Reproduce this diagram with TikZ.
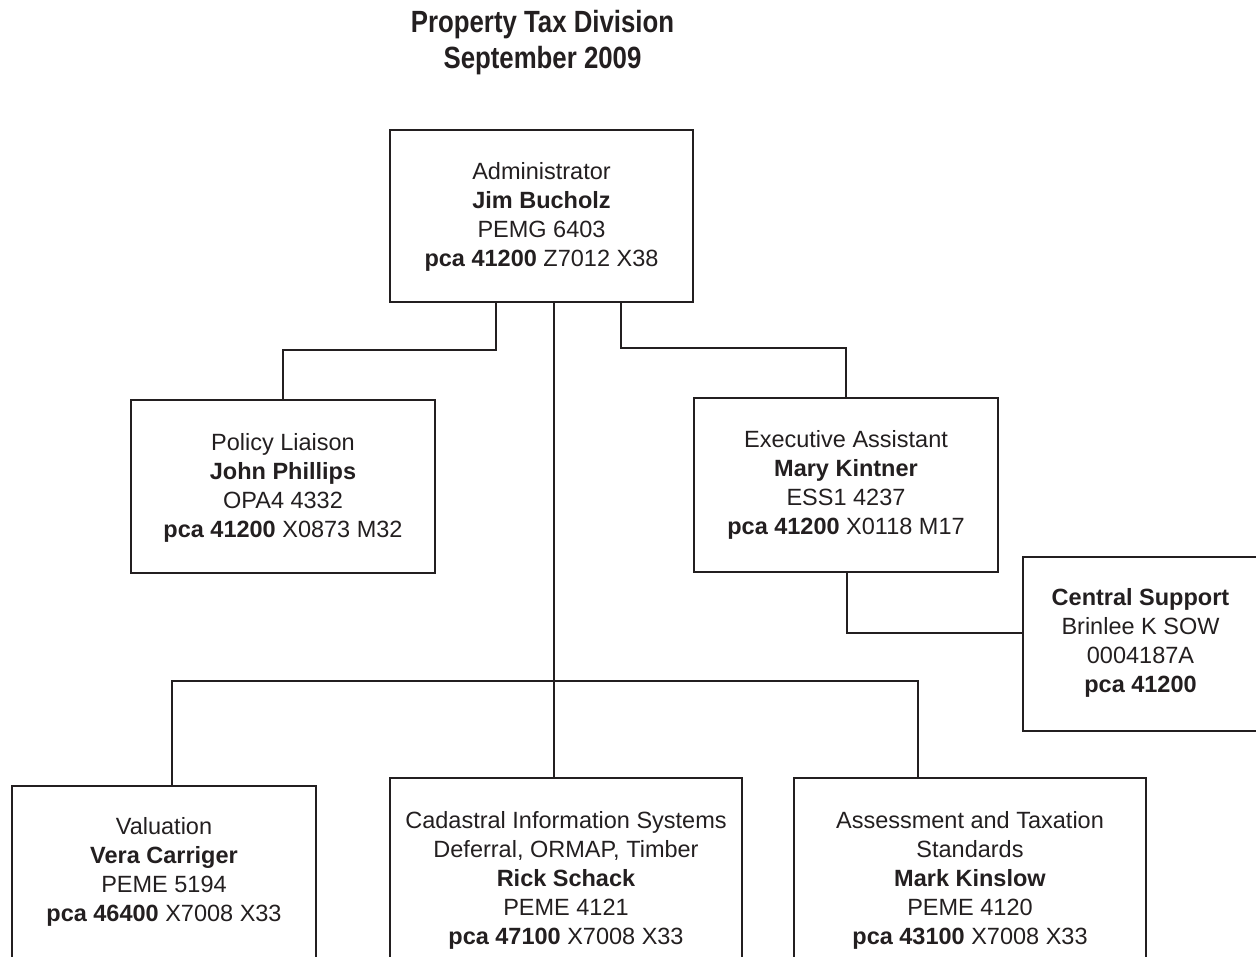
\documentclass[tikz,border=0pt]{standalone}
\usepackage{fontspec}
\setmainfont{Liberation Sans}
\newfontfamily\titlefont[FakeStretch=0.84]{Liberation Sans}
\definecolor{ink}{HTML}{231F20}
\begin{document}
\begin{tikzpicture}[x=1pt,y=-1pt,
  box/.style={draw=ink, line width=1.8pt, rectangle, inner sep=0pt},
  txt/.style={align=center, inner sep=0pt, text=ink, anchor=north,
    font=\fontsize{23.5}{29}\selectfont},
  ttl/.style={align=center, inner sep=0pt, text=ink, anchor=north,
    font=\titlefont\bfseries\fontsize{30.7}{36}\selectfont},
  link/.style={draw=ink, line width=1.8pt}]
\useasboundingbox (0,0) rectangle (1256,957);
\clip (0,0) rectangle (1256,957);

% title
\node[ttl] (title) at (542.5,10) {Property Tax Division\\September 2009};

% boxes
\node[box, minimum width=303pt, minimum height=172pt] (admin) at (541.5,216) {};
\node[box, minimum width=304pt, minimum height=173pt] (policy) at (283,486.5) {};
\node[box, minimum width=304pt, minimum height=174pt] (exec) at (846,485) {};
\node[box, minimum width=235pt, minimum height=174pt] (central) at (1140.5,644) {};
\node[box, minimum width=304pt, minimum height=230pt] (val) at (164,901) {};
\node[box, minimum width=352pt, minimum height=238pt] (cad) at (566,897) {};
\node[box, minimum width=352pt, minimum height=238pt] (ass) at (970,897) {};

% texts
\node[txt] (admint) at (541.5,162.2) {Administrator\\\textbf{Jim Bucholz}\\PEMG 6403\\\textbf{pca 41200} Z7012 X38};
\node[txt] (policyt) at (283,433.2) {Policy Liaison\\\textbf{John Phillips}\\OPA4 4332\\\textbf{pca 41200} X0873 M32};
\node[txt] (exect) at (846,430.2) {Executive Assistant\\\textbf{Mary Kintner}\\ESS1 4237\\\textbf{pca 41200} X0118 M17};
\node[txt] (centralt) at (1140.5,588.2) {\textbf{Central Support}\\Brinlee K SOW\\0004187A\\\textbf{pca 41200}};
\node[txt] (valt) at (164,817.2) {Valuation\\\textbf{Vera Carriger}\\PEME 5194\\\textbf{pca 46400} X7008 X33};
\node[txt] (cadt) at (566,811.2) {Cadastral Information Systems\\Deferral, ORMAP, Timber\\\textbf{Rick Schack}\\PEME 4121\\\textbf{pca 47100} X7008 X33};
\node[txt] (asst) at (970,811.2) {Assessment and Taxation\\Standards\\\textbf{Mark Kinslow}\\PEME 4120\\\textbf{pca 43100} X7008 X33};

% junction points
\coordinate (jL) at (496,350);
\coordinate (jR) at (621,348);
\coordinate (jC) at (554,681);
\coordinate (jV) at (172,681);
\coordinate (jA) at (918,681);
\coordinate (jS) at (847,633);

% connectors
\draw[link] (admin.south -| jL) -- (jL) -| (policy.north);
\draw[link] (admin.south -| jR) -- (jR) -| (exec.north);
\draw[link] (admin.south -| jC) -- (cad.north -| jC);
\draw[link] (val.north -| jV) -- (jV) -- (jA) -- (ass.north -| jA);
\draw[link] (exec.south -| jS) -- (jS) -- (jS -| central.west);
\end{tikzpicture}
\end{document}
